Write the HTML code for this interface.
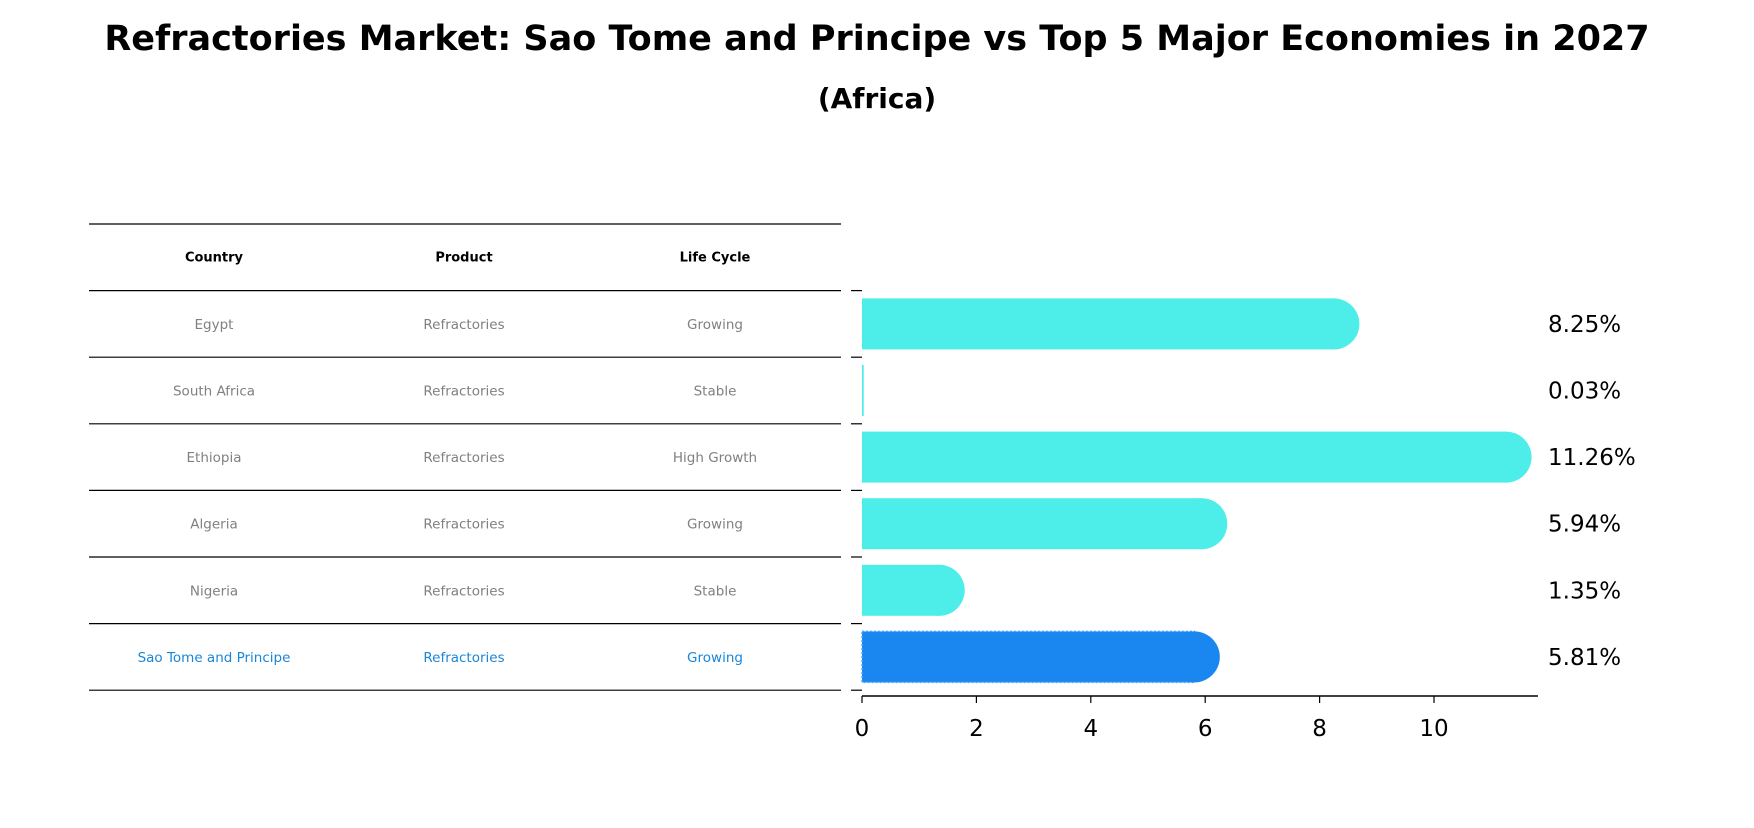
<!DOCTYPE html>
<html><head><meta charset="utf-8"><style>
body{margin:0;background:#fff;}
svg text{font-family:"DejaVu Sans","Liberation Sans",sans-serif;}
</style></head><body>
<svg id="chart" width="1754" height="823" xmlns="http://www.w3.org/2000/svg">
<text x="877" y="50" text-anchor="middle" font-size="35" font-weight="bold">Refractories Market: Sao Tome and Principe vs Top 5 Major Economies in 2027</text>
<text x="877" y="108" text-anchor="middle" font-size="28" font-weight="bold">(Africa)</text>
<g id="table"></g>
<g id="bars"></g>
</svg>
<script>
const countries=["Egypt","South Africa","Ethiopia","Algeria","Nigeria","Sao Tome and Principe"];
const products=["Refractories","Refractories","Refractories","Refractories","Refractories","Refractories"];
const lifeCycles=["Growing","Stable","High Growth","Growing","Stable","Growing"];
const values=[8.25,0.03,11.26,5.94,1.35,5.81];
const valueLabels=["8.25%","0.03%","11.26%","5.94%","1.35%","5.81%"];
const xTicks=[0,2,4,6,8,10];

const NS="http://www.w3.org/2000/svg";
function mk(tag,attrs,parent,text){const e=document.createElementNS(NS,tag);for(const k in attrs)e.setAttribute(k,attrs[k]);if(text!==undefined)e.textContent=text;parent.appendChild(e);return e;}
const tbl=document.getElementById('table'),bars=document.getElementById('bars');
const rowTop=224,rowH=66.6,tblX0=89,tblX1=841,colX=[214,464,715];
const x0=862,pxPer=57.2;
const xs=v=>x0+v*pxPer;
const yc=i=>rowTop+rowH*(i+1.5);
const barH=51;
for(let i=0;i<=countries.length+1;i++){
  const l=mk('line',{x1:tblX0,x2:tblX1,y1:rowTop+rowH*i,y2:rowTop+rowH*i,stroke:'#000','stroke-width':1.2},tbl);
  
  
}
["Country","Product","Life Cycle"].forEach((h,j)=>{
  const t=mk('text',{x:colX[j],y:rowTop+rowH*0.5+4,'text-anchor':'middle','font-size':13,'font-weight':'bold'},tbl,h);
  
  
});
countries.forEach((c,i)=>{
  const col=i===countries.length-1?'#1a86d8':'#808080';
  [c,products[i],lifeCycles[i]].forEach((s,j)=>{
    const t=mk('text',{x:colX[j],y:yc(i)+5,'text-anchor':'middle','font-size':13.5,fill:col},tbl,s);
    
    
  });
  const hl=i===countries.length-1;
  const fill=hl?'#1a86f0':'#4deee9';
  const w=xs(values[i])-x0;
  const r=mk('rect',{x:x0,y:yc(i)-barH/2,width:Math.max(w,1.5),height:barH,fill:fill},bars);
  if(hl){r.setAttribute('stroke','#4aa8f8');r.setAttribute('stroke-dasharray','2,2');r.setAttribute('stroke-width',1.5);}
  
  
  if(values[i]>0.5){
    const cap=mk('circle',{cx:xs(values[i]),cy:yc(i),r:barH/2,fill:fill},bars);
    
    
  }
  const lab=mk('text',{x:1548,y:yc(i)+8,'font-size':23},bars,valueLabels[i]);
  
  
});
for(let i=0;i<=countries.length;i++){
  const t=mk('line',{x1:851,x2:862,y1:rowTop+rowH*(i+1),y2:rowTop+rowH*(i+1),stroke:'#000','stroke-width':1.2},bars);
  
  
}
const ax=mk('line',{x1:x0,x2:1538,y1:696,y2:696,stroke:'#000','stroke-width':1.5},bars);


xTicks.forEach(v=>{
  const t=mk('line',{x1:xs(v),x2:xs(v),y1:696,y2:703,stroke:'#000','stroke-width':1.2},bars);
  
  
  const l=mk('text',{x:xs(v),y:736,'text-anchor':'middle','font-size':23},bars,String(v));
  
  
});
</script>
</body></html>
